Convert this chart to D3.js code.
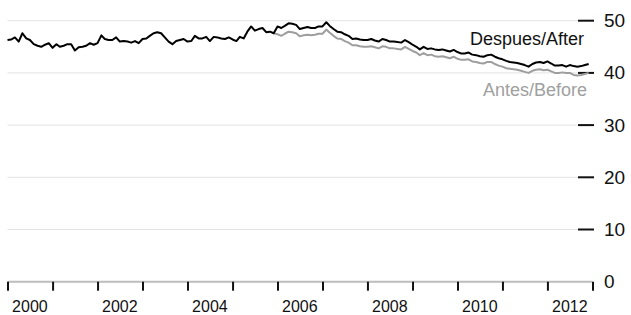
<!DOCTYPE html>
<html>
<head>
<meta charset="utf-8">
<script src="https://cdn.jsdelivr.net/npm/d3@7"></script>
<style>
  html, body { margin: 0; padding: 0; background: #fff; }
  svg { display: block; font-family: "Liberation Sans", Arial, Helvetica, sans-serif; }
</style>
</head>
<body>
<svg id="chart" width="631" height="315"></svg>
<script>
// ---- data ----
const startMonth = "2000-01";          // first monthly observation
const afterValues = [
  46.3,46.4,46.8,46.0,47.6,46.6,46.3,45.5,45.2,45.0,45.4,45.7,
  44.8,45.5,45.0,45.2,45.5,45.5,44.3,44.9,45.0,45.2,45.7,45.4,
  45.7,47.2,46.5,46.3,46.3,46.8,46.0,46.1,46.0,45.8,46.1,45.7,
  46.5,46.6,47.1,47.6,47.8,47.6,46.8,46.0,45.5,46.1,46.3,46.5,
  46.0,46.1,47.1,46.6,46.6,46.9,46.1,46.9,46.8,46.6,46.5,46.8,
  46.4,46.1,46.9,46.6,47.9,48.9,48.1,48.4,48.6,47.8,47.9,47.6,
  48.9,48.6,49.0,49.5,49.4,49.2,48.4,48.6,48.8,48.6,48.6,48.9,
  48.9,49.7,49.0,48.4,47.9,47.8,47.4,47.1,46.5,46.6,46.4,46.3,
  46.3,46.5,46.2,46.0,46.5,46.3,46.0,46.0,45.9,45.8,46.3,45.9,
  45.4,45.0,44.5,45.0,44.6,44.7,44.5,44.4,44.5,44.3,44.1,44.4,
  44.0,43.7,43.7,43.9,43.5,43.4,43.2,43.1,43.4,43.5,43.1,42.8,
  42.6,42.3,42.1,42.0,41.9,41.7,41.5,41.2,41.7,42.0,42.1,41.9,
  42.2,41.8,41.4,41.4,41.5,41.2,41.5,41.3,41.2,41.3,41.5,41.7
];
const beforeStartMonth = "2005-12";
const beforeValues = [
  47.6,
  47.4,47.1,47.5,47.9,47.8,47.6,47.0,47.2,47.3,47.2,47.3,47.5,
  47.5,48.3,47.7,47.1,46.6,46.5,46.1,45.8,45.3,45.3,45.1,45.0,
  45.0,45.1,44.9,44.7,45.1,45.0,44.7,44.7,44.6,44.5,45.0,44.6,
  44.2,43.9,43.4,43.8,43.4,43.5,43.2,43.1,43.2,43.0,42.8,43.1,
  42.7,42.5,42.5,42.6,42.2,42.1,41.9,41.8,42.1,42.1,41.7,41.4,
  41.2,40.9,40.8,40.7,40.6,40.4,40.2,40.0,40.4,40.6,40.7,40.5,
  40.6,40.3,40.0,40.0,40.1,40.0,40.0,39.6,39.5,39.6,39.8,40.0
];
const seriesNames = ["Despues/After", "Antes/Before"];
const yTicks = [0, 10, 20, 30, 40, 50];
const yearTicks = [2000,2001,2002,2003,2004,2005,2006,2007,2008,2009,2010,2011,2012,2013];
const yearLabels = [2000, 2002, 2004, 2006, 2008, 2010, 2012];

// ---- build ----
const parseM = d3.timeParse("%Y-%m");
const afterData = afterValues.map((v, i) => ({ date: d3.timeMonth.offset(parseM(startMonth), i), value: v }));
const beforeData = beforeValues.map((v, i) => ({ date: d3.timeMonth.offset(parseM(beforeStartMonth), i), value: v }));

const svg = d3.select("#chart");
const x = d3.scaleTime()
  .domain([new Date(2000, 0, 1), new Date(2013, 0, 1)])
  .range([7.5, 592.5]);
const y = d3.scaleLinear().domain([0, 50]).range([281.7, 20.7]);

// gridlines
svg.append("g").selectAll("line")
  .data(yTicks.filter(d => d > 0))
  .join("line")
  .attr("x1", 7.5).attr("x2", 580)
  .attr("y1", d => y(d)).attr("y2", d => y(d))
  .attr("stroke", "#e3e3e3").attr("stroke-width", 1);

// x baseline
svg.append("line")
  .attr("x1", 7.5).attr("x2", 592.5)
  .attr("y1", y(0)).attr("y2", y(0))
  .attr("stroke", "#bdbdbd").attr("stroke-width", 2);

// x ticks
const xAxis = d3.axisBottom(x)
  .tickValues(yearTicks.map(yr => new Date(yr, 0, 1)))
  .tickSize(9).tickFormat("");
const gx = svg.append("g").attr("transform", `translate(0,${y(0)})`).call(xAxis);
gx.select(".domain").remove();
gx.selectAll(".tick line").attr("stroke", "#111").attr("stroke-width", 2);

// x labels (centered in year)
svg.append("g").selectAll("text")
  .data(yearLabels)
  .join("text")
  .attr("x", d => x(new Date(d, 6, 1)))
  .attr("y", 312)
  .attr("text-anchor", "middle")
  .attr("font-size", 16)
  .attr("fill", "#111")
  .text(d => d);

// y axis on right
const yAxis = d3.axisRight(y).tickValues(yTicks).tickSize(0).tickPadding(0).tickFormat(d3.format("d"));
const gy = svg.append("g").attr("transform", "translate(604,0)").call(yAxis);
gy.select(".domain").remove();
gy.selectAll(".tick text").attr("font-size", 19).attr("fill", "#111")
  .attr("font-family", "'Liberation Sans', Arial, sans-serif").attr("x", 0);
// dashes
svg.append("g").selectAll("line")
  .data(yTicks.filter(d => d > 0))
  .join("line")
  .attr("x1", 578).attr("x2", 594)
  .attr("y1", d => y(d)).attr("y2", d => y(d))
  .attr("stroke", "#111").attr("stroke-width", 2);

// lines
const line = d3.line().x(d => x(d.date)).y(d => y(d.value));
svg.append("path").datum(beforeData)
  .attr("d", line).attr("fill", "none")
  .attr("stroke", "#9e9e9e").attr("stroke-width", 2).attr("stroke-linejoin", "round");
svg.append("path").datum(afterData)
  .attr("d", line).attr("fill", "none")
  .attr("stroke", "#000").attr("stroke-width", 2).attr("stroke-linejoin", "round");

// series labels
svg.append("text")
  .attr("x", 584).attr("y", 45)
  .attr("text-anchor", "end").attr("font-size", 18).attr("fill", "#111")
  .text(seriesNames[0]);
svg.append("text")
  .attr("x", 587).attr("y", 96)
  .attr("text-anchor", "end").attr("font-size", 18).attr("fill", "#a0a0a0")
  .text(seriesNames[1]);
</script>
</body>
</html>
